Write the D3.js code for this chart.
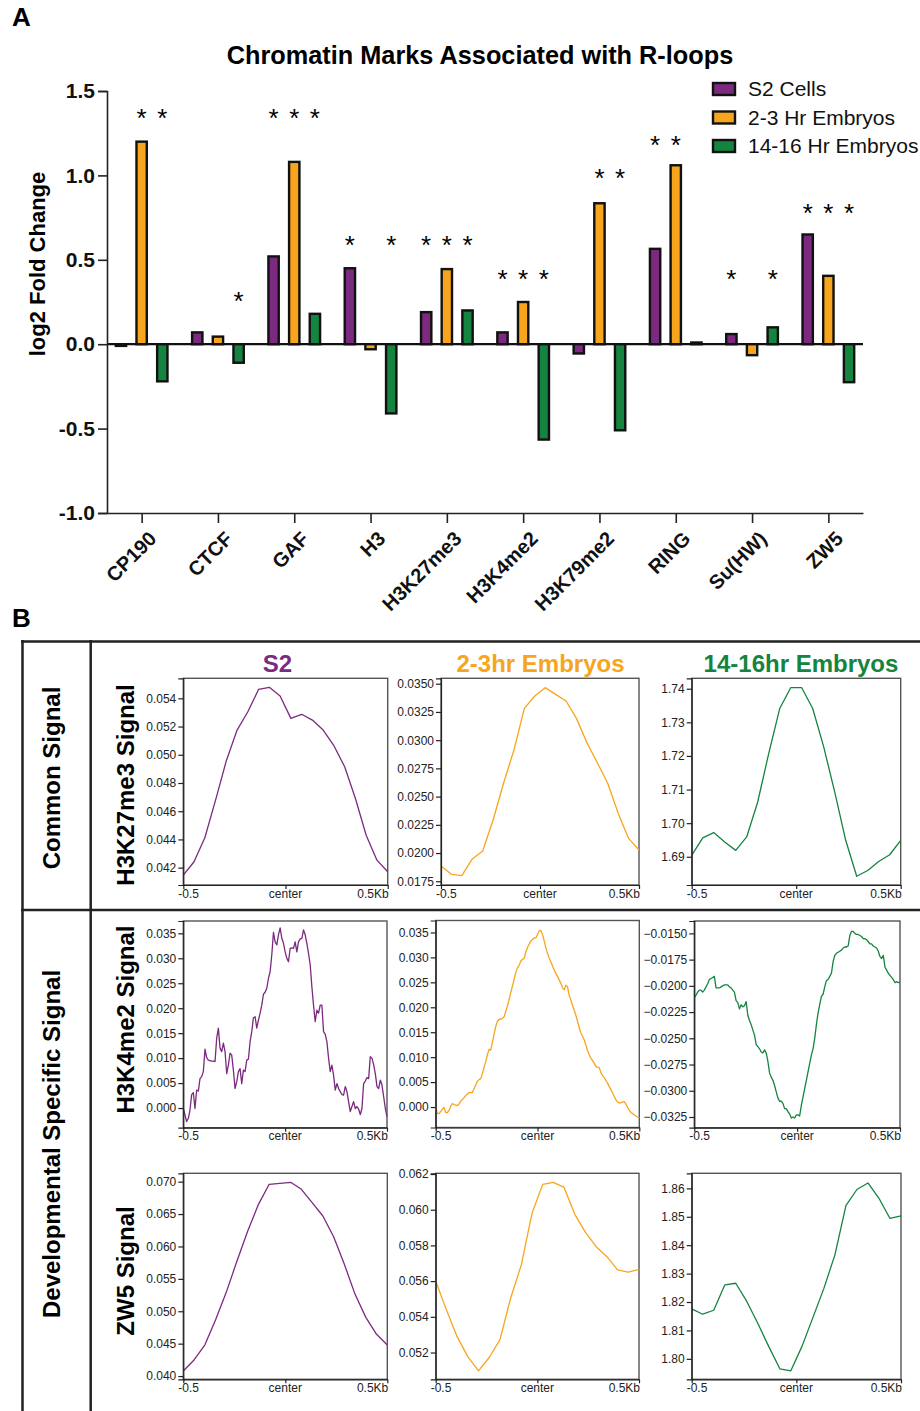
<!DOCTYPE html>
<html>
<head>
<meta charset="utf-8">
<script src="https://cdn.jsdelivr.net/npm/d3@7"></script>
<style>
  body { margin: 0; background: #fff; }
  svg { display: block; font-family: "Liberation Sans", Arial, Helvetica, sans-serif; }
</style>
</head>
<body>
<svg id="chart" width="920" height="1411"></svg>
<script>
// ---------------- Panel A data ----------------
const categories = ["CP190","CTCF","GAF","H3","H3K27me3","H3K4me2","H3K79me2","RING","Su(HW)","ZW5"];
const seriesNames = ["S2 Cells","2-3 Hr Embryos","14-16 Hr Embryos"];
const s2Values      = [-0.01, 0.07, 0.52, 0.45, 0.19, 0.07, -0.055, 0.565, 0.06, 0.65];
const emb23Values   = [1.20, 0.045, 1.08, -0.03, 0.445, 0.25, 0.835, 1.06, -0.065, 0.405];
const emb1416Values = [-0.22, -0.11, 0.18, -0.41, 0.20, -0.565, -0.51, 0.01, 0.10, -0.225];
const s2Signif      = [0,0,1,1,1,1,0,1,1,1];
const emb23Signif   = [1,0,1,0,1,1,1,1,0,1];
const emb1416Signif = [1,1,1,1,1,1,1,0,1,1];
const starLevels    = [1.37, 0.29, 1.37, 0.62, 0.62, 0.42, 1.02, 1.21, 0.42, 0.81];
const yTicksA = [1.5, 1.0, 0.5, 0.0, -0.5, -1.0];
const colors = ["#7B2A7F", "#F7A51D", "#158440"];

// ---------------- Panel B data ----------------
const columnTitles = ["S2", "2-3hr Embryos", "14-16hr Embryos"];
const rowLabels = ["H3K27me3 Signal", "H3K4me2 Signal", "ZW5 Signal"];
const xProfileLabels = ["-0.5", "center", "0.5Kb"];

const s2H3K27me3 = [0.04147,0.04242,0.04412,0.04679,0.04958,0.05175,0.05305,0.05464,0.05478,0.05417,
  0.05258,0.05287,0.05246,0.05175,0.05064,0.04915,0.0469,0.0443,0.04253,0.04171];
const emb23H3K27me3 = [0.01886,0.01812,0.01800,0.01948,0.02018,0.02293,0.02618,0.02913,0.03282,0.03391,
  0.03465,0.03406,0.03347,0.03193,0.02978,0.02800,0.02618,0.02352,0.02130,0.02027];
const emb1416H3K27me3 = [1.6904,1.6956,1.6972,1.6944,1.6919,1.6959,1.7063,1.7207,1.7341,1.7403,
  1.7403,1.7341,1.7227,1.7093,1.6949,1.6842,1.6859,1.6886,1.6906,1.6949];

const s2H3K4me2 = [-0.0001,-0.0014,-0.0027,-0.0021,-0.0004,0.0027,0.0031,-0.0001,0.0036,0.0034,
  0.0059,0.0063,0.0073,0.0118,0.0101,0.0096,0.0095,0.0094,0.0094,0.0093,
  0.0140,0.0160,0.0120,0.0113,0.0130,0.0113,0.0069,0.0086,0.0110,0.0106,
  0.0076,0.0039,0.0053,0.0073,0.0079,0.0049,0.0076,0.0073,0.0096,0.0098,
  0.0133,0.0153,0.0181,0.0183,0.0160,0.0176,0.0190,0.0206,0.0228,0.0232,
  0.0240,0.0260,0.0273,0.0307,0.0352,0.0333,0.0327,0.0347,0.0361,0.0340,
  0.0330,0.0313,0.0300,0.0293,0.0320,0.0321,0.0320,0.0333,0.0313,0.0333,
  0.0339,0.0340,0.0357,0.0347,0.0330,0.0310,0.0287,0.0243,0.0206,0.0173,
  0.0196,0.0190,0.0206,0.0206,0.0153,0.0148,0.0133,0.0100,0.0073,0.0086,
  0.0066,0.0036,0.0049,0.0039,0.0033,0.0027,0.0026,0.0043,0.0033,0.0013,
  -0.0007,0.0003,0.0013,-0.0001,0.0003,-0.0002,-0.0013,-0.0001,0.0049,0.0054,
  0.0061,0.0059,0.0103,0.0100,0.0087,0.0069,0.0043,0.0039,0.0056,0.0046,
  0.0023,-0.0001,-0.0017];
const emb23H3K4me2 = [0.0001,-0.0013,-0.0013,-0.0009,-0.0004,-0.0001,-0.0011,-0.0011,-0.0007,0.0002,
  0.0007,0.0005,0.0004,0.0003,0.0006,0.0012,0.0015,0.0019,0.0023,0.0026,
  0.0029,0.0029,0.0029,0.0037,0.0044,0.0052,0.0055,0.0057,0.0067,0.0080,
  0.0091,0.0105,0.0116,0.0114,0.0130,0.0146,0.0162,0.0172,0.0176,0.0176,
  0.0178,0.0181,0.0192,0.0203,0.0216,0.0230,0.0243,0.0256,0.0270,0.0279,
  0.0284,0.0293,0.0296,0.0298,0.0311,0.0320,0.0327,0.0333,0.0336,0.0339,
  0.0339,0.0346,0.0353,0.0354,0.0346,0.0333,0.0319,0.0308,0.0299,0.0291,
  0.0283,0.0275,0.0268,0.0262,0.0255,0.0248,0.0239,0.0235,0.0244,0.0241,
  0.0224,0.0214,0.0204,0.0194,0.0184,0.0172,0.0159,0.0148,0.0142,0.0135,
  0.0124,0.0113,0.0105,0.0098,0.0093,0.0088,0.0081,0.0080,0.0079,0.0069,
  0.0063,0.0059,0.0053,0.0048,0.0041,0.0035,0.0028,0.0021,0.0015,0.0010,
  0.0008,0.0009,0.0010,0.0011,0.0006,-0.0001,-0.0006,-0.0011,-0.0013,-0.0016,
  -0.0018,-0.0020,-0.0021];
const emb1416H3K4me2 = [-0.0211,-0.0209,-0.0206,-0.0204,-0.0204,-0.0206,-0.0204,-0.0201,-0.0198,-0.0194,
  -0.0193,-0.0192,-0.0191,-0.0202,-0.0202,-0.0202,-0.0201,-0.0200,-0.0199,-0.0199,
  -0.0199,-0.0201,-0.0202,-0.0204,-0.0206,-0.0214,-0.0216,-0.0222,-0.0218,-0.0220,
  -0.0219,-0.0215,-0.0228,-0.0233,-0.0237,-0.0242,-0.0247,-0.0256,-0.0258,-0.0260,
  -0.0263,-0.0264,-0.0261,-0.0264,-0.0272,-0.0283,-0.0287,-0.0290,-0.0295,-0.0301,
  -0.0307,-0.0310,-0.0310,-0.0312,-0.0317,-0.0317,-0.0320,-0.0322,-0.0326,-0.0325,
  -0.0326,-0.0323,-0.0323,-0.0324,-0.0314,-0.0306,-0.0298,-0.0290,-0.0282,-0.0274,
  -0.0266,-0.0260,-0.0250,-0.0237,-0.0226,-0.0218,-0.0210,-0.0208,-0.0201,-0.0195,
  -0.0194,-0.0191,-0.0188,-0.0177,-0.0171,-0.0169,-0.0168,-0.0167,-0.0166,-0.0164,
  -0.0163,-0.0163,-0.0162,-0.0152,-0.0148,-0.0148,-0.0150,-0.0151,-0.0151,-0.0152,
  -0.0153,-0.0155,-0.0155,-0.0156,-0.0158,-0.0160,-0.0160,-0.0162,-0.0163,-0.0164,
  -0.0167,-0.0172,-0.0174,-0.0171,-0.0182,-0.0185,-0.0188,-0.0190,-0.0192,-0.0194,
  -0.0197,-0.0196,-0.0197,-0.0196];

const s2ZW5 = [0.04078,0.04248,0.04479,0.04865,0.05292,0.05776,0.06239,0.0665,0.06959,0.06974,
  0.0699,0.06882,0.06676,0.0647,0.06151,0.05724,0.05261,0.04906,0.04644,0.04479];
const emb23ZW5 = [0.05601,0.05439,0.05289,0.05177,0.05097,0.05172,0.05271,0.05504,0.05691,0.0598,
  0.06142,0.06153,0.06125,0.05974,0.05873,0.05793,0.05737,0.05663,0.0565,0.05666];
const emb1416ZW5 = [1.8176,1.8157,1.8171,1.8260,1.8266,1.8202,1.8125,1.8043,1.7965,1.7958,
  1.8043,1.8145,1.8248,1.8366,1.8539,1.8596,1.8619,1.8565,1.8494,1.8503];

const profileValues = [
  [s2H3K27me3, emb23H3K27me3, emb1416H3K27me3],
  [s2H3K4me2, emb23H3K4me2, emb1416H3K4me2],
  [s2ZW5, emb23ZW5, emb1416ZW5]
];
const profileDomains = [
  [[0.04077, 0.05542], [0.01717, 0.03548], [1.6816, 1.7431]],
  [[-0.00394, 0.03747], [-0.0041, 0.0374], [-0.03352, -0.01382]],
  [[0.0395, 0.07129], [0.0505, 0.06204], [1.7928, 1.8653]]
];
const profileTicks = [
  [[0.042,0.044,0.046,0.048,0.050,0.052,0.054],
   [0.0175,0.0200,0.0225,0.0250,0.0275,0.0300,0.0325,0.0350],
   [1.69,1.70,1.71,1.72,1.73,1.74]],
  [[0.000,0.005,0.010,0.015,0.020,0.025,0.030,0.035],
   [0.000,0.005,0.010,0.015,0.020,0.025,0.030,0.035],
   [-0.0325,-0.0300,-0.0275,-0.0250,-0.0225,-0.0200,-0.0175,-0.0150]],
  [[0.040,0.045,0.050,0.055,0.060,0.065,0.070],
   [0.052,0.054,0.056,0.058,0.060,0.062],
   [1.80,1.81,1.82,1.83,1.84,1.85,1.86]]
];
const profileFormats = [[".3f", ".4f", ".2f"], [".3f", ".3f", ".4f"], [".3f", ".3f", ".2f"]];

// ---------------- Drawing ----------------
const svg = d3.select("#chart");

// Panel labels
svg.append("text").attr("x", 12).attr("y", 26).attr("font-size", 26).attr("font-weight", "bold").text("A");
svg.append("text").attr("x", 12).attr("y", 627).attr("font-size", 26).attr("font-weight", "bold").text("B");

// Title
svg.append("text").attr("x", 480).attr("y", 64).attr("text-anchor", "middle")
  .attr("font-size", 25.3).attr("font-weight", "bold").text("Chromatin Marks Associated with R-loops");

// Scales
const x = d3.scalePoint().domain(categories).range([107, 863]).padding(0.454);
const xSub = d3.scaleBand().domain([0,1,2]).range([-31, 31]).paddingInner(0.5).paddingOuter(0.25);
const y = d3.scaleLinear().domain([-1.0, 1.5]).range([513, 91]);

// zero line
svg.append("line").attr("x1", 107).attr("x2", 863).attr("y1", y(0)).attr("y2", y(0))
  .attr("stroke", "#111").attr("stroke-width", 2.2);

const seriesVals = [s2Values, emb23Values, emb1416Values];
const seriesSig = [s2Signif, emb23Signif, emb1416Signif];

const barData = [];
const starData = [];
categories.forEach((c, i) => {
  for (let s = 0; s < 3; s++) {
    barData.push({ c, s, v: seriesVals[s][i] });
    if (seriesSig[s][i]) starData.push({ c, s, level: starLevels[i] });
  }
});

svg.append("g").selectAll("rect").data(barData).join("rect")
  .attr("x", d => x(d.c) + xSub(d.s))
  .attr("width", xSub.bandwidth())
  .attr("y", d => Math.min(y(d.v), y(0)))
  .attr("height", d => Math.abs(y(d.v) - y(0)))
  .attr("fill", d => colors[d.s])
  .attr("stroke", "#111").attr("stroke-width", 2.4);

svg.append("g").selectAll("text").data(starData).join("text")
  .attr("x", d => x(d.c) + xSub(d.s) + xSub.bandwidth() / 2)
  .attr("y", d => y(d.level) + 14.5)
  .attr("text-anchor", "middle").attr("font-size", 26)
  .text("*");

// Y axis
const yAxis = svg.append("g").attr("transform", "translate(107,0)")
  .call(d3.axisLeft(y).tickValues(yTicksA).tickSize(9).tickPadding(3).tickFormat(d => d.toFixed(1)));
yAxis.selectAll("text").attr("font-size", 21).attr("font-weight", "bold").attr("fill", "#111")
  .attr("font-family", "Liberation Sans, Arial, sans-serif");
yAxis.selectAll("path, line").attr("stroke", "#222").attr("stroke-width", 1.6);

// X axis
const xAxis = svg.append("g").attr("transform", "translate(0,513)")
  .call(d3.axisBottom(x).tickSize(10).tickSizeOuter(0).tickFormat(""));
xAxis.selectAll("path, line").attr("stroke", "#222").attr("stroke-width", 1.6);
svg.append("g").selectAll("text").data(categories).join("text")
  .attr("transform", d => `translate(${x(d) + 16},540) rotate(-45)`)
  .attr("text-anchor", "end").attr("font-size", 20).attr("font-weight", "bold").attr("fill", "#111")
  .text(d => d);

// Y label
svg.append("text").attr("transform", "translate(45,264) rotate(-90)")
  .attr("text-anchor", "middle").attr("font-size", 22).attr("font-weight", "bold").text("log2 Fold Change");

// Legend
const legend = svg.append("g");
seriesNames.forEach((n, i) => {
  const cy = 89 + i * 28.5;
  legend.append("rect").attr("x", 713).attr("y", cy - 6).attr("width", 22).attr("height", 12)
    .attr("fill", colors[i]).attr("stroke", "#111").attr("stroke-width", 2.4);
  legend.append("text").attr("x", 748).attr("y", cy + 7).attr("font-size", 21).attr("fill", "#111").text(n);
});

// ---------------- Panel B ----------------
const frame = svg.append("g").attr("stroke", "#222").attr("stroke-width", 2.5);
frame.append("line").attr("x1", 21).attr("x2", 920).attr("y1", 641.5).attr("y2", 641.5);
frame.append("line").attr("x1", 22.5).attr("x2", 22.5).attr("y1", 640).attr("y2", 1411);
frame.append("line").attr("x1", 90.7).attr("x2", 90.7).attr("y1", 640).attr("y2", 1411);
frame.append("line").attr("x1", 21).attr("x2", 920).attr("y1", 910).attr("y2", 910);

svg.append("text").attr("transform", "translate(60,778) rotate(-90)")
  .attr("text-anchor", "middle").attr("font-size", 24).attr("font-weight", "bold").text("Common Signal");
svg.append("text").attr("transform", "translate(60,1144) rotate(-90)")
  .attr("text-anchor", "middle").attr("font-size", 24).attr("font-weight", "bold").text("Developmental Specific Signal");

const rowLabelY = [785, 1019.5, 1271];
rowLabels.forEach((t, i) => {
  svg.append("text").attr("transform", `translate(134,${rowLabelY[i]}) rotate(-90)`)
    .attr("text-anchor", "middle").attr("font-size", 24).attr("font-weight", "bold").text(t);
});

const colTitleX = [277.5, 540.5, 801];
columnTitles.forEach((t, i) => {
  svg.append("text").attr("x", colTitleX[i]).attr("y", 672).attr("text-anchor", "middle")
    .attr("font-size", 24).attr("font-weight", "bold").attr("fill", colors[i]).text(t);
});

const profileLayout = [
  [{x0:183.3,x1:387.7,y0:678.3,y1:885},{x0:441,x1:639,y0:678.3,y1:885},{x0:691.7,x1:900.7,y0:678.3,y1:885}],
  [{x0:183.3,x1:387,y0:921,y1:1127.7},{x0:435.7,x1:639.3,y0:920.5,y1:1127.5},{x0:694.3,x1:900,y0:921,y1:1127.7}],
  [{x0:183.3,x1:387.3,y0:1173.3,y1:1379.3},{x0:435.7,x1:639,y0:1173.3,y1:1379.3},{x0:691.7,x1:901,y0:1173.3,y1:1379.3}]
];

for (let r = 0; r < 3; r++) {
  for (let c = 0; c < 3; c++) {
    const L = profileLayout[r][c];
    const vals = profileValues[r][c];
    const g = svg.append("g");
    const xs = d3.scaleLinear().domain([0, vals.length - 1]).range([L.x0, L.x1]);
    const xa = d3.scaleLinear().domain([-0.5, 0.5]).range([L.x0, L.x1]);
    const ys = d3.scaleLinear().domain(profileDomains[r][c]).range([L.y1, L.y0]);

    g.append("rect").attr("x", L.x0).attr("y", L.y0).attr("width", L.x1 - L.x0).attr("height", L.y1 - L.y0)
      .attr("fill", "none").attr("stroke", "#555").attr("stroke-width", 1.4);

    g.append("path").datum(vals)
      .attr("d", d3.line().x((d, i) => xs(i)).y(d => ys(d)))
      .attr("fill", "none").attr("stroke", colors[c]).attr("stroke-width", 1.3).attr("stroke-linejoin", "round");

    const ya = g.append("g").attr("transform", `translate(${L.x0},0)`)
      .call(d3.axisLeft(ys).tickValues(profileTicks[r][c]).tickSize(5).tickPadding(2)
        .tickFormat(d3.format(profileFormats[r][c])));
    ya.selectAll("text").attr("font-size", 12).attr("fill", "#222")
      .attr("font-family", "Liberation Sans, Arial, sans-serif");
    ya.selectAll("path, line").attr("stroke", "#222").attr("stroke-width", 1.2);

    const xaG = g.append("g").attr("transform", `translate(0,${L.y1})`)
      .call(d3.axisBottom(xa).tickValues([-0.5, 0, 0.5]).tickSize(4).tickSizeOuter(0).tickFormat(""));
    xaG.selectAll("path, line").attr("stroke", "#222").attr("stroke-width", 1.2);

    const anchors = ["start", "middle", "end"];
    const xl = [L.x0 - 5, (L.x0 + L.x1) / 2, L.x1 + 1];
    xProfileLabels.forEach((t, k) => {
      g.append("text").attr("x", xl[k]).attr("y", L.y1 + 12.5).attr("text-anchor", anchors[k])
        .attr("font-size", 12).attr("fill", "#222").text(t);
    });
  }
}
</script>
</body>
</html>
